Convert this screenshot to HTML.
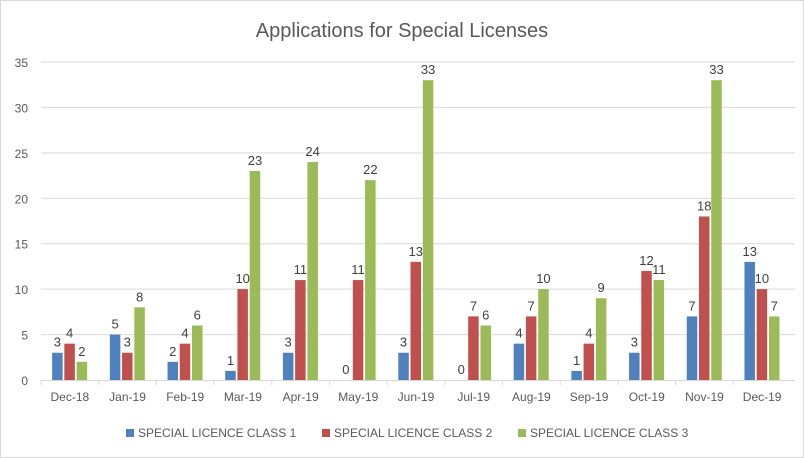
<!DOCTYPE html>
<html><head><meta charset="utf-8"><style>
html,body{margin:0;padding:0;background:#fff}
svg{display:block;font-family:"Liberation Sans",sans-serif}
</style></head><body>
<svg width="804" height="458">
<rect x="0.5" y="0.5" width="803" height="457" fill="#fff" stroke="#d9d9d9"/>
<text x="402" y="37" text-anchor="middle" font-size="20" fill="#595959">Applications for Special Licenses</text>
<g id="grid"></g><g id="bars"></g><g id="axes"></g>
<g>
<rect x="126" y="429" width="8" height="8" fill="#4f81bd"/>
<text x="138" y="437" font-size="12" fill="#595959">SPECIAL LICENCE CLASS 1</text>
<rect x="322" y="429" width="8" height="8" fill="#c0504d"/>
<text x="334" y="437" font-size="12" fill="#595959">SPECIAL LICENCE CLASS 2</text>
<rect x="518" y="429" width="8" height="8" fill="#9bbb59"/>
<text x="530" y="437" font-size="12" fill="#595959">SPECIAL LICENCE CLASS 3</text>
</g>
</svg>
<script>
const categories=["Dec-18","Jan-19","Feb-19","Mar-19","Apr-19","May-19","Jun-19","Jul-19","Aug-19","Sep-19","Oct-19","Nov-19","Dec-19"];
const class1=[3,5,2,1,3,0,3,0,4,1,3,7,13];
const class2=[4,3,4,10,11,11,13,7,7,4,12,18,10];
const class3=[2,8,6,23,24,22,33,6,10,9,11,33,7];
const yTicks=[0,5,10,15,20,25,30,35];
const NS="http://www.w3.org/2000/svg";
const x0=41,x1=791,yTop=62,yBot=380,yMax=35;
const bw=(x1-x0)/categories.length;
function y(v){return yBot-(v/yMax)*(yBot-yTop);}
function xc(i){return x0+bw*(i+0.5);}
function mk(tag,attrs,parent){const e=document.createElementNS(NS,tag);for(const k in attrs)e.setAttribute(k,attrs[k]);document.getElementById(parent).appendChild(e);return e;}
yTicks.forEach(t=>{
  if(t>0){const l=mk('line',{x1:x0,x2:x1+4,y1:y(t),y2:y(t),stroke:'#d9d9d9'},'grid');
  
  }
  const tx=mk('text',{x:28,y:y(t)+5,'text-anchor':'end','font-size':'12',fill:'#595959'},'axes');
  tx.textContent=t;
  
  
});
const ax=mk('line',{x1:x0,x2:x1+4,y1:yBot+0.5,y2:yBot+0.5,stroke:'#d9d9d9'},'axes');


categories.forEach((c,i)=>{
  const tk=mk('line',{x1:x0+bw*i,x2:x0+bw*i,y1:yBot,y2:yBot+5,stroke:'#d9d9d9'},'axes');
  
  
  const tx=mk('text',{x:xc(i),y:401,'text-anchor':'middle','font-size':'12',fill:'#595959'},'axes');
  tx.textContent=c;
  
  
});
const series=[[class1,'#4f81bd',-17.7,'class-1'],[class2,'#c0504d',-5.5,'class-2'],[class3,'#9bbb59',6.8,'class-3']];
series.forEach(([vals,col,off,nm])=>{
  vals.forEach((v,i)=>{
    const bx=xc(i)+off;
    const r=mk('rect',{x:bx,y:y(v),width:10.5,height:yBot-y(v),fill:col},'bars');
    
    
    const t=mk('text',{x:bx+5.25,y:y(v)-6,'text-anchor':'middle','font-size':'13',fill:'#404040'},'bars');
    t.textContent=v;
    
    
  });
});
</script>
</body></html>
